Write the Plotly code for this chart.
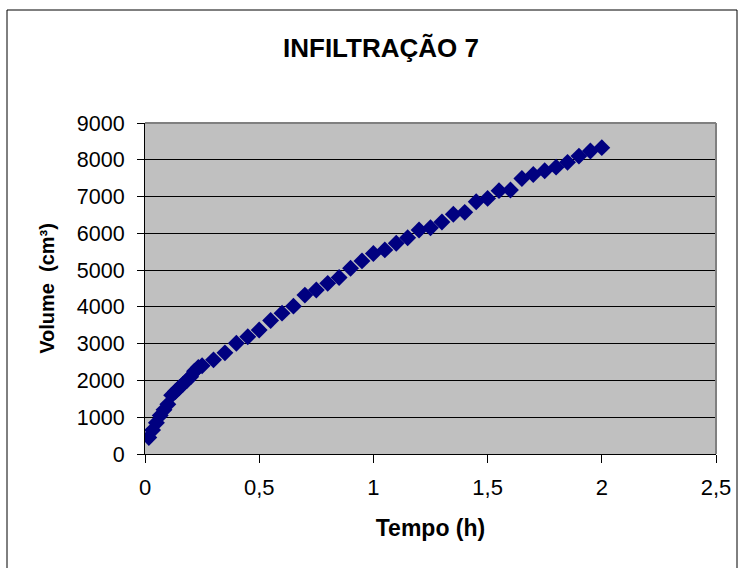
import plotly.graph_objects as go

tempo_h = [0.0167, 0.0333, 0.05, 0.0667, 0.0833, 0.1, 0.1167, 0.1333, 0.15, 0.1667,
           0.1833, 0.2, 0.2167, 0.2333, 0.25, 0.3, 0.35, 0.4, 0.45, 0.5,
           0.55, 0.6, 0.65, 0.7, 0.75, 0.8, 0.85, 0.9, 0.95, 1.0,
           1.05, 1.1, 1.15, 1.2, 1.25, 1.3, 1.35, 1.4, 1.45, 1.5,
           1.55, 1.6, 1.65, 1.7, 1.75, 1.8, 1.85, 1.9, 1.95, 2.0]
volume_cm3 = [450, 650, 850, 1050, 1200, 1350, 1600, 1700, 1800, 1900,
              2000, 2100, 2250, 2350, 2400, 2560, 2750, 3010, 3190, 3370,
              3630, 3830, 4020, 4320, 4460, 4640, 4800, 5050, 5250, 5450,
              5550, 5730, 5880, 6090, 6150, 6310, 6520, 6570, 6860, 6950,
              7160, 7180, 7490, 7600, 7700, 7800, 7930, 8100, 8240, 8330]

x_tick_vals = [0, 0.5, 1, 1.5, 2, 2.5]
x_tick_text = ["0", "0,5", "1", "1,5", "2", "2,5"]
y_tick_vals = [0, 1000, 2000, 3000, 4000, 5000, 6000, 7000, 8000, 9000]

FONT = "Liberation Sans, Arial, sans-serif"

fig = go.Figure()
fig.add_trace(go.Scatter(
    x=tempo_h, y=volume_cm3, mode="markers",
    marker=dict(symbol="diamond", size=13, color="#000080",
                line=dict(width=0)),
    showlegend=False,
))

fig.update_layout(
    width=744, height=568,
    margin=dict(l=145, r=28, t=123, b=114),
    paper_bgcolor="white",
    plot_bgcolor="#C0C0C0",
    font=dict(family=FONT, color="black", size=22),
    title=dict(text="<b>INFILTRAÇÃO 7</b>", x=381 / 744, xanchor="center",
               y=1 - 48 / 568, yanchor="middle",
               font=dict(size=26, family=FONT, color="black")),
    xaxis=dict(
        range=[0, 2.5], tickvals=x_tick_vals, ticktext=x_tick_text,
        showgrid=False, zeroline=False,
        showline=True, linecolor="black", linewidth=1,
        ticks="outside", ticklen=8, tickcolor="black",
        ticklabelstandoff=6,
        tickfont=dict(size=22, family=FONT),
        title=dict(text="<b>Tempo (h)</b>", font=dict(size=23, family=FONT),
                   standoff=20),
        mirror=False,
    ),
    yaxis=dict(
        range=[0, 9000], tickvals=y_tick_vals,
        showgrid=True, gridcolor="black", gridwidth=1,
        zeroline=False,
        showline=True, linecolor="black", linewidth=1,
        ticks="outside", ticklen=7, tickcolor="black",
        ticklabelstandoff=8,
        tickfont=dict(size=21.5, family=FONT),
        title=dict(text="<b>Volume\u00a0\u00a0(cm³)</b>", font=dict(size=20, family=FONT),
                   standoff=16),
    ),
)

# gray plot-area frame on top and right
fig.add_shape(type="line", xref="paper", yref="paper", x0=0, x1=1, y0=1, y1=1,
              line=dict(color="#808080", width=2), layer="above")
fig.add_shape(type="line", xref="paper", yref="paper", x0=1, x1=1, y0=0, y1=1,
              line=dict(color="#808080", width=2), layer="above")
# chart outer border
fig.add_shape(type="rect", xref="paper", yref="paper",
              x0=(7 - 145) / 571, x1=(737 - 145) / 571,
              y0=(454 - 600) / 331, y1=(454 - 10) / 331,
              line=dict(color="black", width=1), fillcolor="rgba(0,0,0,0)",
              layer="below")

fig.write_html("out.html")
